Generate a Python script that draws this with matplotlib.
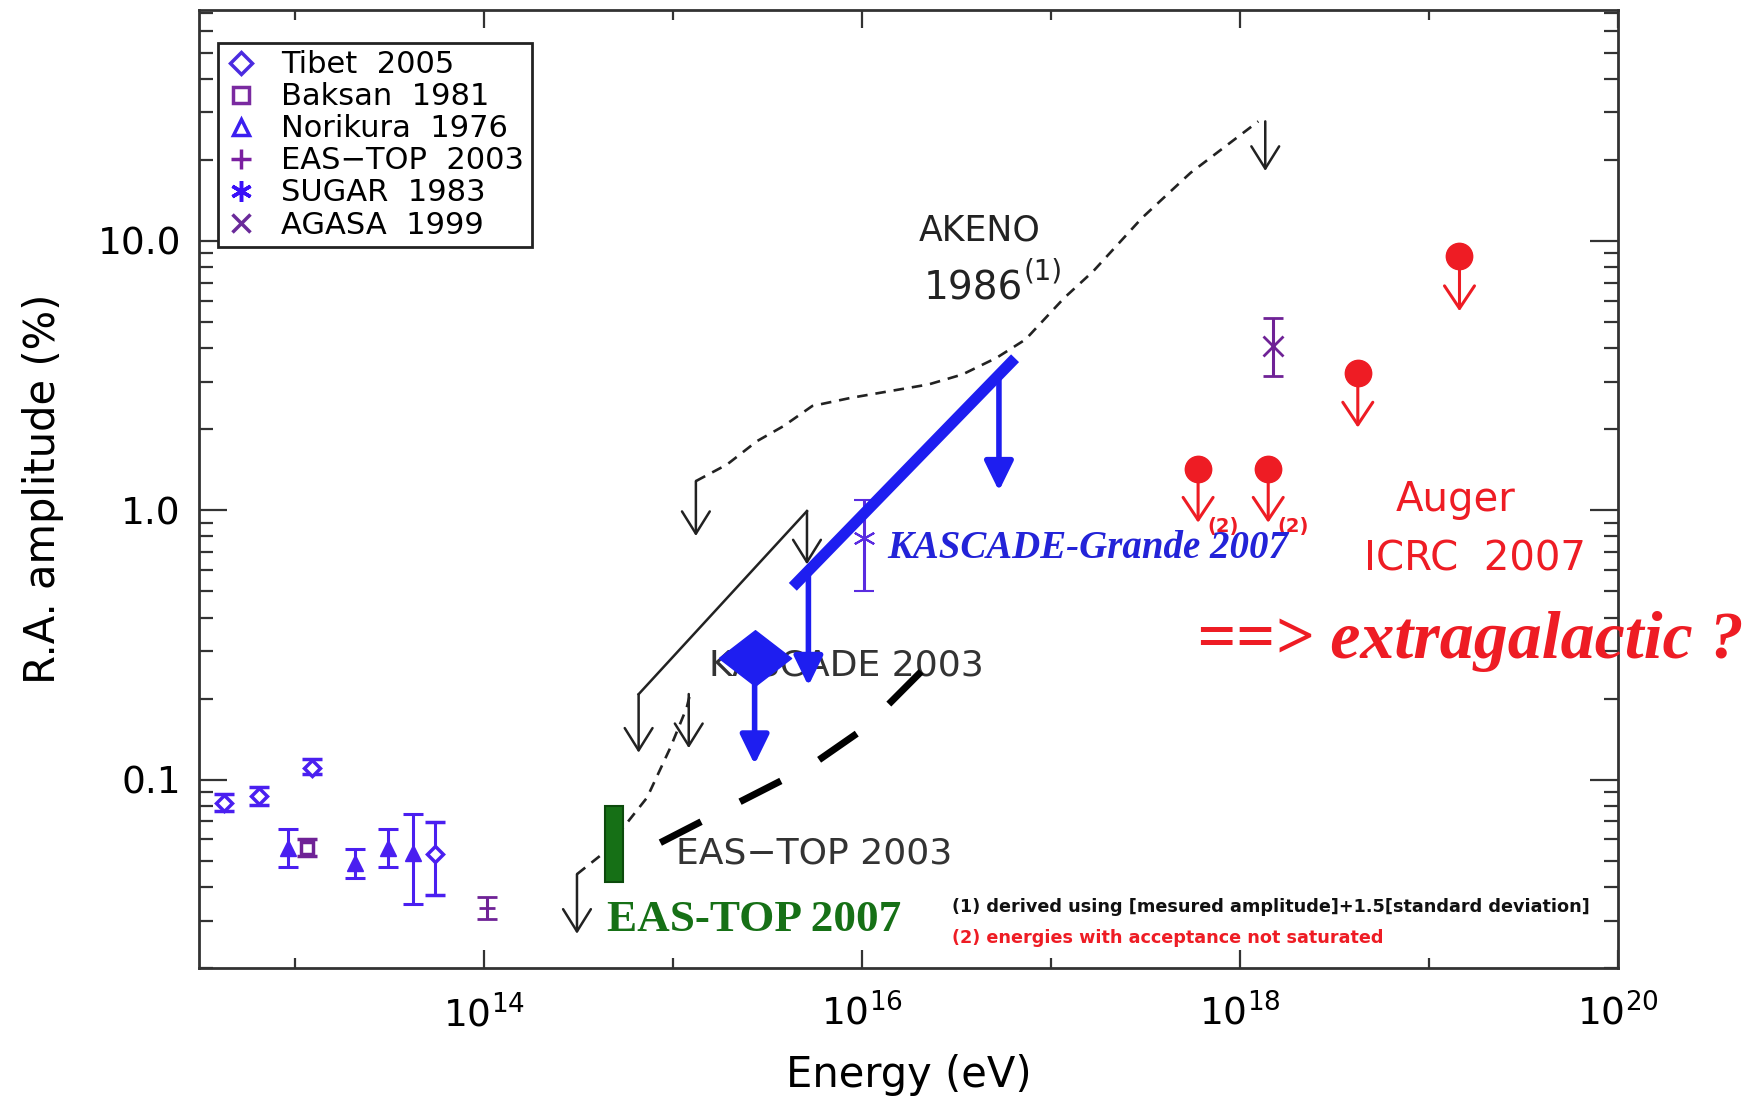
import numpy as np
import matplotlib
matplotlib.use('Agg')
import matplotlib.pyplot as plt
from matplotlib.lines import Line2D
from matplotlib.ticker import FixedLocator, FuncFormatter, NullFormatter, LogLocator

plt.rcParams['font.family'] = ['DejaVu Sans']
plt.rcParams['mathtext.fontset'] = 'dejavusans'

# ---- data: energy (eV), R.A. amplitude (%) ----
tibet_E = [4.2e12, 6.4e12, 1.23e13, 5.5e13]
tibet_A = [0.082, 0.087, 0.111, 0.053]
tibet_lo = [0.0766, 0.0806, 0.1048, 0.0373]
tibet_hi = [0.0883, 0.094, 0.1191, 0.0697]

baksan_E = [1.16e13]
baksan_A = [0.056]
baksan_lo = [0.052]
baksan_hi = [0.060]

norikura_E = [9.2e12, 2.08e13, 3.1e13, 4.19e13]
norikura_A = [0.056, 0.049, 0.056, 0.0536]
norikura_lo = [0.0474, 0.0433, 0.0474, 0.0345]
norikura_hi = [0.0655, 0.0552, 0.0655, 0.0748]

eastop03_E = [1.04e14]
eastop03_A = [0.0335]
eastop03_lo = [0.0304]
eastop03_hi = [0.0367]

sugar_E = [1.02e16]
sugar_A = [0.79]
sugar_lo = [0.50]
sugar_hi = [1.09]

agasa_E = [1.5e18]
agasa_A = [4.07]
agasa_lo = [3.15]
agasa_hi = [5.19]

# Auger ICRC 2007 upper limits
auger_E = [6.0e17, 1.41e18, 4.2e18, 1.45e19]
auger_A = [1.42, 1.42, 3.24, 8.78]
auger_tip = [0.90, 0.90, 2.03, 5.49]
auger_note = [True, True, False, False]

# KASCADE-Grande 2007 band and its arrows
kg_E = [4.3e15, 6.45e16]
kg_A = [0.52, 3.67]
kg_arrow_E = [5.2e15, 5.3e16]
kg_arrow_from = [0.58, 3.18]
kg_arrow_to = [0.223, 1.18]

# KASCADE 2003
kas03_E = [2.7e15]
kas03_A = [0.283]
kas03_tip = [0.114]

# AKENO 1986 upper limit curve (short dashes)
akeno_E = [1.32e15, 1.93e15, 2.78e15, 3.84e15, 5.45e15, 8.75e15, 2.25e16,
           3.4e16, 5.15e16, 7.33e16, 1.175e17, 1.675e17, 3.03e17, 5.47e17, 1.25e18]
akeno_A = [1.284, 1.48, 1.807, 2.055, 2.44, 2.617, 2.934,
           3.196, 3.684, 4.31, 6.15, 7.73, 12.18, 17.9, 27.8]

# lower dashed upper limit curve
low_E = [3.1e14, 4.21e14, 5.82e14, 7.28e14, 9.67e14, 1.18e15, 1.23e15]
low_A = [0.0446, 0.0529, 0.0704, 0.0858, 0.1315, 0.185, 0.208]

# thin solid upper limit line
solid_E = [6.57e14, 5.11e15]
solid_A = [0.2077, 0.994]

# EAS-TOP 2003 (long dashes)
eastop_line_E = [8.56e14, 2.13e15, 5.32e15, 1.04e16, 2.07e16]
eastop_line_A = [0.0584, 0.0811, 0.1125, 0.156, 0.2533]

# EAS-TOP 2007 box
eastop07_E = [4.34e14, 5.41e14]
eastop07_A = [0.0416, 0.0796]

# black upper limit arrows
ul_E = [3.1e14, 1.21e15, 1.32e15, 1.36e18, 6.57e14, 5.11e15]
ul_from = [0.0446, 0.208, 1.284, 27.8, 0.2077, 0.994]
ul_to = [0.0268, 0.131, 0.803, 18.2, 0.126, 0.63]

BLUE = '#1e1ef0'
VIOLET = '#4a1ff0'
PURPLE = '#6f2296'
RED = '#ee1c24'
GREEN = '#167016'
INK = '#222222'


def errbar(ax, E, A, lo, hi, **kw):
    A = np.array(A)
    yerr = [A - np.array(lo), np.array(hi) - A]
    ax.errorbar(E, A, yerr=yerr, ls='none', capsize=7, elinewidth=2.2,
                capthick=2.2, zorder=4, **kw)


fig = plt.figure(figsize=(17.52, 11.03), dpi=100)
ax = fig.add_axes([0.1136, 0.1224, 0.8099, 0.8685])
ax.set_xscale('log')
ax.set_yscale('log')
ax.set_xlim(3.1e12, 1e20)
ax.set_ylim(0.02, 72)

# low-energy points
errbar(ax, tibet_E, tibet_A, tibet_lo, tibet_hi, marker='D', ms=8, mfc='white',
       mec=VIOLET, mew=2.5, color=VIOLET)
errbar(ax, norikura_E, norikura_A, norikura_lo, norikura_hi, marker='^', ms=11,
       color=VIOLET)
errbar(ax, baksan_E, baksan_A, baksan_lo, baksan_hi, marker='s', ms=9, mfc='white',
       mec=PURPLE, mew=2.5, color=PURPLE)
errbar(ax, eastop03_E, eastop03_A, eastop03_lo, eastop03_hi, marker='+', ms=12,
       mew=2, color=PURPLE)
errbar(ax, sugar_E, sugar_A, sugar_lo, sugar_hi, marker=(6, 2, 0), ms=16, mew=1.5,
       color='#5a2ce0')
errbar(ax, agasa_E, agasa_A, agasa_lo, agasa_hi, marker='x', ms=14, mew=2,
       color=PURPLE)

# curves
ax.plot(akeno_E, akeno_A, color=INK, lw=1.9, ls=(0, (4, 3)), zorder=3)
ax.plot(low_E, low_A, color=INK, lw=1.9, ls=(0, (4, 3)), zorder=3)
ax.plot(solid_E, solid_A, color=INK, lw=1.8, zorder=3)
ax.plot(eastop_line_E, eastop_line_A, color='black', lw=5, ls=(0, (6.6, 6.3)),
        solid_capstyle='butt', dash_capstyle='butt', zorder=3)

for e, a0, a1 in zip(ul_E, ul_from, ul_to):
    ax.annotate('', xy=(e, a1), xytext=(e, a0),
                arrowprops=dict(arrowstyle='->,head_length=0.4,head_width=0.25',
                                mutation_scale=40, lw=1.8, color=INK,
                                shrinkA=0, shrinkB=0), zorder=3)

# EAS-TOP 2007 box
ax.bar(eastop07_E[0], eastop07_A[1] - eastop07_A[0], width=eastop07_E[1] - eastop07_E[0],
       bottom=eastop07_A[0], align='edge', color=GREEN, edgecolor='#0c4a0c', lw=1.5,
       zorder=4)

# KASCADE-Grande 2007
ax.plot(kg_E, kg_A, color=BLUE, lw=8, solid_capstyle='butt', zorder=5)
for e, a0, a1 in zip(kg_arrow_E, kg_arrow_from, kg_arrow_to):
    ax.annotate('', xy=(e, a1), xytext=(e, a0),
                arrowprops=dict(arrowstyle='-|>,head_length=0.45,head_width=0.22',
                                mutation_scale=40, lw=4, color=BLUE,
                                shrinkA=0, shrinkB=0), zorder=5)

# KASCADE 2003
diamond = [(-1, 0), (0, 0.77), (1, 0), (0, -0.77), (-1, 0)]
for e, a0, a1 in zip(kas03_E, kas03_A, kas03_tip):
    ax.annotate('', xy=(e, a1), xytext=(e, a0),
                arrowprops=dict(arrowstyle='-|>,head_length=0.45,head_width=0.22',
                                mutation_scale=40, lw=4, color=BLUE,
                                shrinkA=0, shrinkB=0), zorder=5)
ax.plot(kas03_E, kas03_A, ls='none', marker=diamond, ms=52, color=BLUE, zorder=6)

# Auger
for e, a0, a1 in zip(auger_E, auger_A, auger_tip):
    ax.annotate('', xy=(e, a1), xytext=(e, a0),
                arrowprops=dict(arrowstyle='->,head_length=0.45,head_width=0.3',
                                mutation_scale=36, lw=2.2, color=RED,
                                shrinkA=0, shrinkB=0), zorder=5)
ax.plot(auger_E, auger_A, ls='none', marker='o', ms=19, color=RED, zorder=6)
for e, a1, note in zip(auger_E, auger_tip, auger_note):
    if note:
        ax.text(e * 1.12, a1 * 0.92, '(2)', color=RED, fontsize=14, weight='bold',
                ha='left', va='baseline', zorder=7)

# labels inside the plot
ax.text(2.0e16, 10.0, 'AKENO', fontsize=25, color=INK, va='baseline')
ax.text(2.12e16, 6.07, '1986', fontsize=28, color=INK, va='baseline')
ax.text(7.2e16, 7.2, '(1)', fontsize=20, color=INK, va='baseline')
ax.text(1.54e15, 0.2428, 'KASCADE 2003', fontsize=26, color='#333333',
        va='baseline', zorder=2)
ax.text(1.03e15, 0.0488, 'EAS\u2212TOP 2003', fontsize=26, color='#333333',
        va='baseline', zorder=2)
ax.text(4.47e14, 0.0275, 'EAS-TOP 2007', fontsize=32.5, color=GREEN,
        family='Liberation Serif', weight='bold', va='baseline')
ax.text(1.36e16, 0.667, 'KASCADE-Grande 2007', fontsize=28, color='#2323d8',
        family='Liberation Serif', weight='bold', style='italic', va='baseline',
        zorder=7)
ax.text(1.39e19, 0.994, 'Auger', fontsize=29, color=RED, ha='center', va='baseline')
ax.text(1.755e19, 0.5955, 'ICRC  2007', fontsize=29, color=RED, ha='center',
        va='baseline')
ax.text(5.9e17, 0.284, '==> extragalactic ?', fontsize=49, color=RED,
        family='Liberation Serif', weight='bold', style='italic', va='baseline',
        zorder=8)
ax.text(2.99e16, 0.0337, '(1) derived using [mesured amplitude]+1.5[standard deviation]',
        fontsize=12.7, weight='bold', color='#111111', va='center')
ax.text(2.99e16, 0.0259, '(2) energies with acceptance not saturated',
        fontsize=12.7, weight='bold', color=RED, va='center')

# legend
handles = [
    Line2D([], [], ls='none', marker='D', ms=11, mfc='none', mec='#4b2be0', mew=2.5),
    Line2D([], [], ls='none', marker='s', ms=12, mfc='none', mec='#7a2aa0', mew=2.5),
    Line2D([], [], ls='none', marker='^', ms=12, mfc='none', mec='#3b1ff0', mew=2.5),
    Line2D([], [], ls='none', marker='+', ms=15, color='#7a1fa0', mew=2.5),
    Line2D([], [], ls='none', marker=(6, 2, 0), ms=15, color='#3a0ff8', mew=2.5),
    Line2D([], [], ls='none', marker='x', ms=13, color='#6a2a9a', mew=2.5),
]
labels = ['Tibet  2005', 'Baksan  1981', 'Norikura  1976', 'EAS\u2212TOP  2003',
          'SUGAR  1983', 'AGASA  1999']
leg = ax.legend(handles, labels, loc='upper left', bbox_to_anchor=(0.0136, 0.966),
                borderaxespad=0, fontsize=22, labelspacing=0.1, handlelength=1.0,
                handletextpad=0.8, borderpad=0.25, fancybox=False, framealpha=1,
                edgecolor='#222222')
leg.get_frame().set_linewidth(2)

# axes styling
for s in ax.spines.values():
    s.set_linewidth(2)
    s.set_color('#333333')

ax.xaxis.set_major_locator(FixedLocator([1e14, 1e16, 1e18, 1e20]))
ax.xaxis.set_minor_locator(FixedLocator([1e13, 1e15, 1e17, 1e19]))
ax.xaxis.set_major_formatter(FuncFormatter(lambda v, p: r'$10^{%d}$' % round(np.log10(v))))
ax.xaxis.set_minor_formatter(NullFormatter())
ax.yaxis.set_major_locator(FixedLocator([0.1, 1.0, 10.0]))
ax.yaxis.set_minor_locator(LogLocator(base=10, subs=np.arange(2, 10)))
ax.yaxis.set_major_formatter(FuncFormatter(lambda v, p: '%.1f' % v))
ax.yaxis.set_minor_formatter(NullFormatter())

ax.tick_params(which='both', direction='in', top=True, right=True, width=1.6,
               color='#333333', labelsize=27)
ax.tick_params(axis='x', which='major', length=13, pad=19)
ax.tick_params(axis='x', which='minor', length=7)
ax.tick_params(axis='y', which='major', length=20, pad=13)
ax.tick_params(axis='y', which='minor', length=10)

ax.set_xlabel('Energy (eV)', fontsize=30, labelpad=14)
ax.set_ylabel('R.A. amplitude (%)', fontsize=30, labelpad=24)

fig.savefig('out.png', dpi=100, facecolor='white')
